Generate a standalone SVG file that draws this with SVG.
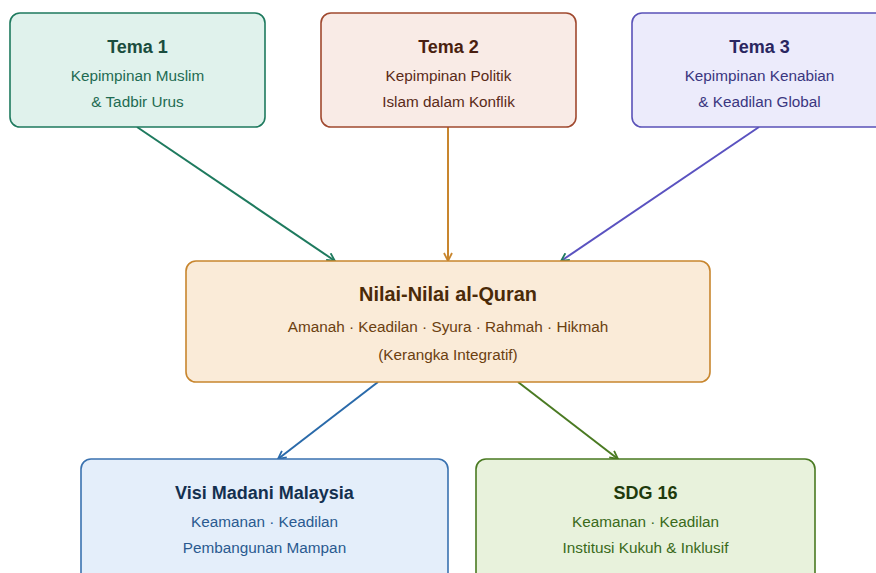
<svg xmlns="http://www.w3.org/2000/svg" width="876" height="573" viewBox="0 0 876 573">
<defs>
<style>
text{font-family:"Liberation Sans",Arial,sans-serif;text-anchor:middle}
.t{font-weight:bold;font-size:18px}
.s{font-size:15.3px}
.ct{font-weight:bold;font-size:19.9px}
.box{stroke-width:1.6}
.ln{fill:none;stroke-width:2}
</style>
<marker id="mg" viewBox="0 0 10 10" refX="9" refY="5" markerWidth="10" markerHeight="10" markerUnits="userSpaceOnUse" orient="auto"><path d="M1,1 L9,5 L1,9" fill="none" stroke="#1e7a5e" stroke-width="1.8"/></marker>
<marker id="mo" viewBox="0 0 10 10" refX="9" refY="5" markerWidth="10" markerHeight="10" markerUnits="userSpaceOnUse" orient="auto"><path d="M1,1 L9,5 L1,9" fill="none" stroke="#c8862e" stroke-width="1.8"/></marker>
<marker id="mb" viewBox="0 0 10 10" refX="9" refY="5" markerWidth="10" markerHeight="10" markerUnits="userSpaceOnUse" orient="auto"><path d="M1,1 L9,5 L1,9" fill="none" stroke="#2a6aaa" stroke-width="1.8"/></marker>
<marker id="ml" viewBox="0 0 10 10" refX="9" refY="5" markerWidth="10" markerHeight="10" markerUnits="userSpaceOnUse" orient="auto"><path d="M1,1 L9,5 L1,9" fill="none" stroke="#4a7a22" stroke-width="1.8"/></marker>
</defs>
<rect width="876" height="573" fill="#ffffff"/>
<g id="connectors">
<line class="ln" x1="137" y1="127" x2="335" y2="261" stroke="#1e7a5e" marker-end="url(#mg)"/>
<line class="ln" x1="448" y1="127" x2="448" y2="261" stroke="#c8862e" marker-end="url(#mo)"/>
<line class="ln" x1="759" y1="127" x2="561" y2="261" stroke="#5a52c0" marker-end="url(#mg)"/>
<line class="ln" x1="378" y1="382" x2="278" y2="459" stroke="#2a6aaa" marker-end="url(#mb)"/>
<line class="ln" x1="518" y1="382" x2="618" y2="459" stroke="#4a7a22" marker-end="url(#ml)"/>
</g>
<g id="tema1">
<rect class="box" x="10" y="13" width="255" height="114" rx="10" fill="#e0f2ec" stroke="#1e7a5e"/>
<text class="t" x="137.5" y="53" fill="#1a4d3e">Tema 1</text>
<text class="s" x="137.5" y="81" fill="#1e6b52">Kepimpinan Muslim</text>
<text class="s" x="137.5" y="107" fill="#1e6b52">&amp; Tadbir Urus</text>
</g>
<g id="tema2">
<rect class="box" x="321" y="13" width="255" height="114" rx="10" fill="#f9ebe6" stroke="#a0492f"/>
<text class="t" x="448.5" y="53" fill="#4a1f10">Tema 2</text>
<text class="s" x="448.5" y="81" fill="#5a2a18">Kepimpinan Politik</text>
<text class="s" x="448.5" y="107" fill="#5a2a18">Islam dalam Konflik</text>
</g>
<g id="tema3">
<rect class="box" x="632" y="13" width="255" height="114" rx="10" fill="#ecebfb" stroke="#5a52b8"/>
<text class="t" x="759.5" y="53" fill="#2a2660">Tema 3</text>
<text class="s" x="759.5" y="81" fill="#3a3680">Kepimpinan Kenabian</text>
<text class="s" x="759.5" y="107" fill="#3a3680">&amp; Keadilan Global</text>
</g>
<g id="nilai">
<rect class="box" x="186" y="261" width="524" height="121" rx="10" fill="#faebd8" stroke="#c8862e" stroke-width="2"/>
<text class="ct" x="448" y="301" fill="#4a2a08">Nilai-Nilai al-Quran</text>
<text class="s" x="448" y="332" fill="#6b4010">Amanah · Keadilan · Syura · Rahmah · Hikmah</text>
<text class="s" x="448" y="360" fill="#6b4010">(Kerangka Integratif)</text>
</g>
<g id="visi">
<rect class="box" x="81" y="459" width="367" height="130" rx="10" fill="#e4eefa" stroke="#3a72b0"/>
<text class="t" x="264.5" y="499" fill="#14304f">Visi Madani Malaysia</text>
<text class="s" x="264.5" y="527" fill="#2a5a90">Keamanan · Keadilan</text>
<text class="s" x="264.5" y="553" fill="#2a5a90">Pembangunan Mampan</text>
</g>
<g id="sdg">
<rect class="box" x="476" y="459" width="339" height="130" rx="10" fill="#e8f2dc" stroke="#4a7a22"/>
<text class="t" x="645.5" y="499" fill="#1e3a0c">SDG 16</text>
<text class="s" x="645.5" y="527" fill="#3a6a1a">Keamanan · Keadilan</text>
<text class="s" x="645.5" y="553" fill="#3a6a1a">Institusi Kukuh &amp; Inklusif</text>
</g>
</svg>
